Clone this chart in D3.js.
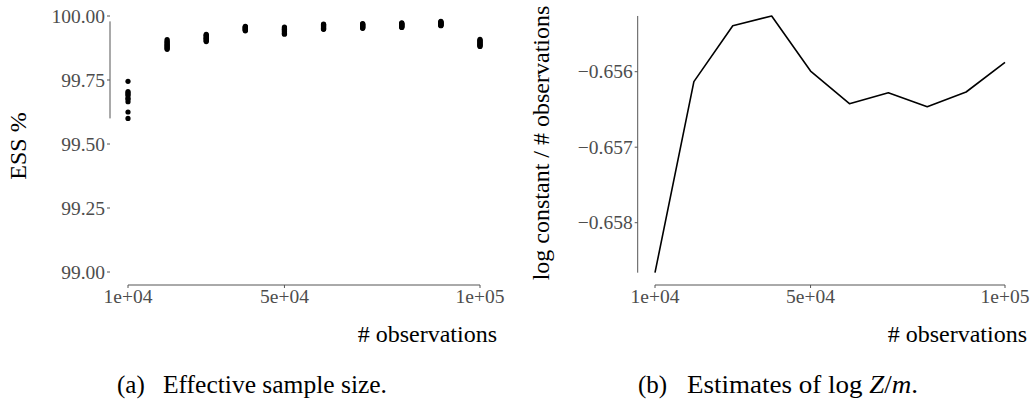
<!DOCTYPE html>
<html><head><meta charset="utf-8">
<script src="https://cdn.jsdelivr.net/npm/d3@7"></script>
<style>
body{margin:0;background:#fff;}
svg{display:block;}
svg text{font-family:'Liberation Serif','Times New Roman','DejaVu Serif',serif;}
</style></head>
<body>
<svg id="c" width="1035" height="401" font-family="Liberation Serif, Times New Roman, serif"></svg>
<script>
// ---- data ----
const nObs = [10000, 20000, 30000, 40000, 50000, 60000, 70000, 80000, 90000, 100000];
const ess10k  = [99.745, 99.705, 99.700, 99.695, 99.690, 99.680, 99.675, 99.665, 99.625, 99.600];
const ess20k  = [99.908, 99.902, 99.898, 99.895, 99.890, 99.886, 99.882, 99.878, 99.874, 99.870];
const ess30k  = [99.928, 99.925, 99.922, 99.918, 99.915, 99.912, 99.910, 99.906, 99.903, 99.900];
const ess40k  = [99.960, 99.958, 99.956, 99.954, 99.952, 99.950, 99.948, 99.946, 99.944, 99.942];
const ess50k  = [99.957, 99.954, 99.951, 99.948, 99.945, 99.942, 99.939, 99.935, 99.932, 99.929];
const ess60k  = [99.968, 99.966, 99.964, 99.961, 99.959, 99.957, 99.955, 99.952, 99.950, 99.948];
const ess70k  = [99.970, 99.968, 99.966, 99.964, 99.962, 99.960, 99.958, 99.956, 99.954, 99.952];
const ess80k  = [99.973, 99.971, 99.969, 99.967, 99.965, 99.963, 99.961, 99.959, 99.957, 99.955];
const ess90k  = [99.979, 99.977, 99.975, 99.973, 99.971, 99.969, 99.967, 99.965, 99.963, 99.962];
const ess100k = [99.909, 99.905, 99.902, 99.899, 99.896, 99.893, 99.890, 99.887, 99.884, 99.881];
const essByN = [ess10k, ess20k, ess30k, ess40k, ess50k, ess60k, ess70k, ess80k, ess90k, ess100k];
const logZm = [-0.658662, -0.656132, -0.655391, -0.655262, -0.655991, -0.656424, -0.656278, -0.656464, -0.656269, -0.655875];
const xTicks = [10000, 50000, 100000];
const xTickLabels = ["1e+04", "5e+04", "1e+05"];
const essTicks = [99.00, 99.25, 99.50, 99.75, 100.00];
const logTicks = [-0.658, -0.657, -0.656];

const svg = d3.select("#c");
const FONT = "Liberation Serif, Times New Roman, serif";
const axisCol = "#555555", tickCol = "#4d4d4d";
const tickFs = 19.5, titleFs = 24, capFs = 25;

function txt(g) { return g.append("text").attr("font-family", FONT); }

function rangeFrameX(g, x, yPos, dataExtent) {
  g.append("line").attr("x1", x(dataExtent[0])).attr("x2", x(dataExtent[1]))
   .attr("y1", yPos).attr("y2", yPos).attr("stroke", axisCol).attr("stroke-width", 1);
  xTicks.forEach((t, i) => {
    g.append("line").attr("x1", x(t)).attr("x2", x(t)).attr("y1", yPos).attr("y2", yPos + 3)
     .attr("stroke", axisCol).attr("stroke-width", 1);
    txt(g).attr("x", x(t)).attr("y", yPos + 18).attr("text-anchor", "middle")
     .attr("font-size", tickFs).attr("fill", tickCol).text(xTickLabels[i]);
  });
}
function rangeFrameY(g, y, xPos, dataExtent, ticks, fmt) {
  g.append("line").attr("x1", xPos).attr("x2", xPos)
   .attr("y1", y(dataExtent[0])).attr("y2", y(dataExtent[1]))
   .attr("stroke", axisCol).attr("stroke-width", 1);
  ticks.forEach(t => {
    g.append("line").attr("x1", xPos - 3).attr("x2", xPos).attr("y1", y(t)).attr("y2", y(t))
     .attr("stroke", axisCol).attr("stroke-width", 1);
    txt(g).attr("x", xPos - 5).attr("y", y(t)).attr("dy", "0.34em")
     .attr("text-anchor", "end").attr("font-size", tickFs).attr("fill", tickCol).text(fmt(t));
  });
}

// ---- panel (a) ----
const xA = d3.scaleLinear().domain([10000, 100000]).range([128, 480]);
const yA = d3.scaleLinear().domain([99, 100]).range([272, 16]);
const gA = svg.append("g");
const allEss = essByN.flat();
rangeFrameY(gA, yA, 110, d3.extent(allEss), essTicks, d3.format(".2f"));
rangeFrameX(gA, xA, 285, d3.extent(nObs));
const pts = [];
nObs.forEach((n, i) => essByN[i].forEach(v => pts.push({n, v})));
gA.selectAll("circle").data(pts).join("circle")
  .attr("cx", d => xA(d.n)).attr("cy", d => yA(d.v)).attr("r", 2.6).attr("fill", "#000");
txt(gA).attr("transform", "translate(26,146) rotate(-90)")
  .attr("text-anchor", "middle").attr("font-size", titleFs).attr("fill", "#000").text("ESS %");
txt(gA).attr("x", 497).attr("y", 342).attr("text-anchor", "end")
  .attr("font-size", titleFs).attr("fill", "#000").text("# observations");

// ---- panel (b) ----
const xB = d3.scaleLinear().domain([10000, 100000]).range([655, 1005]);
const yB = d3.scaleLinear().domain([-0.658, -0.656]).range([222.7, 71.7]);
const gB = svg.append("g");
rangeFrameY(gB, yB, 637.7, d3.extent(logZm), logTicks, v => d3.format(".3f")(v).replace("-", "\u2212"));
rangeFrameX(gB, xB, 285, d3.extent(nObs));
gB.append("path").datum(nObs.map((n, i) => [n, logZm[i]]))
  .attr("d", d3.line().x(d => xB(d[0])).y(d => yB(d[1])))
  .attr("fill", "none").attr("stroke", "#000").attr("stroke-width", 1.6).attr("stroke-linejoin", "round");
txt(gB).attr("transform", "translate(549,143) rotate(-90)")
  .attr("text-anchor", "middle").attr("font-size", titleFs).attr("fill", "#000").text("log constant / # observations");
txt(gB).attr("x", 1027).attr("y", 342).attr("text-anchor", "end")
  .attr("font-size", titleFs).attr("fill", "#000").text("# observations");

// ---- captions ----
txt(svg).attr("x", 117).attr("y", 393).attr("font-size", capFs).text("(a)");
txt(svg).attr("x", 163).attr("y", 393).attr("font-size", capFs)
  .attr("textLength", 224).attr("lengthAdjust", "spacingAndGlyphs").text("Effective sample size.");
txt(svg).attr("x", 638).attr("y", 393).attr("font-size", capFs).text("(b)");
const capB = txt(svg).attr("x", 687).attr("y", 393).attr("font-size", capFs)
  .attr("textLength", 231).attr("lengthAdjust", "spacingAndGlyphs");
capB.append("tspan").text("Estimates of log ");
capB.append("tspan").attr("font-style", "italic").text("Z");
capB.append("tspan").text("/");
capB.append("tspan").attr("font-style", "italic").text("m");
capB.append("tspan").text(".");
</script>
</body></html>
